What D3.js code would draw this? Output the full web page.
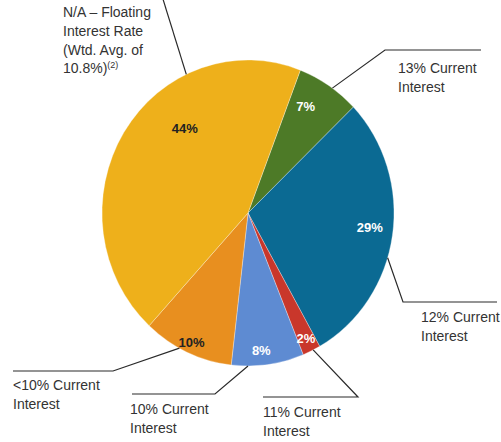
<!DOCTYPE html>
<html><head><meta charset="utf-8">
<script src="https://cdn.jsdelivr.net/npm/d3@7"></script>
<style>body{margin:0;background:#fff}svg{display:block}text{font-family:"Liberation Sans",Arial,sans-serif}</style>
</head><body><svg id="c" width="501" height="442"></svg>
<script>
// Data
const categories = ["13% Current Interest","12% Current Interest","11% Current Interest","10% Current Interest","<10% Current Interest","N/A – Floating Interest Rate (Wtd. Avg. of 10.8%)"];
const values = [7, 29, 2, 8, 10, 44];
const valueLabels = ["7%","29%","2%","8%","10%","44%"];
const colors = ["#4d7a27","#0b6a93","#c9372b","#5e8bd2","#e88f1f","#eeb01b"];
const labelColors = ["#fff","#fff","#fff","#fff","#222","#222"];

// layout
const W = 501, H = 442, cx = 248, cy = 213, R = 146, sy = 1.048;
const startDeg = 21;
const svg = d3.select("#c");
const g = svg.append("g").attr("transform", `translate(${cx},${cy}) scale(1,${sy})`);
const pie = d3.pie().sort(null).value(d => d)
  .startAngle(startDeg * Math.PI / 180).endAngle(startDeg * Math.PI / 180 + 2 * Math.PI);
const arcs = pie(values);
const arc = d3.arc().innerRadius(0).outerRadius(R);
g.selectAll("path").data(arcs).join("path")
  .attr("d", arc).attr("fill", (d, i) => colors[i])
  .attr("stroke", "rgba(255,255,255,0.5)").attr("stroke-width", 0.6);

// helper: point on ellipse by angle (radians, clockwise from top)
const pt = (a, r) => [cx + r * Math.sin(a), cy - r * Math.cos(a) * sy];

// value labels
const labRad = [0.80, 0.84, 0.91, 0.90, 0.93, 0.70];
const labNudge = [-4, -2, 0, 2, 0, 20];
svg.selectAll("text.v").data(arcs).join("text").attr("class", "v")
  .each(function (d, i) {
    const a = (d.startAngle + d.endAngle) / 2 + labNudge[i] * Math.PI / 180;
    const [x, y] = pt(a, R * labRad[i]);
    d3.select(this).attr("x", x).attr("y", y);
  })
  .attr("text-anchor", "middle").attr("dy", "0.35em")
  .attr("font-size", 13).attr("font-weight", "bold")
  .attr("fill", (d, i) => labelColors[i]).text((d, i) => valueLabels[i]);

// leader lines: start angle (deg), elbow, end
const leaders = [
  {deg: 35.3, pts: [[385, 50], [481, 50]], tx: 398, ty: 73, lines: ["13% Current", "Interest"]},
  {deg: 107, pts: [[403, 302], [497, 302]], tx: 421, ty: 322, lines: ["12% Current", "Interest"]},
  {deg: 153.5, pts: [[358, 397], [263, 397]], tx: 263, ty: 417, lines: ["11% Current", "Interest"]},
  {deg: 180, pts: [[215, 394], [132, 394]], tx: 130, ty: 414, lines: ["10% Current", "Interest"]},
  {deg: 208, pts: [[113, 371], [13, 371]], tx: 13, ty: 390, lines: ["<10% Current", "Interest"]},
  {deg: 335, pts: [[162, -4]], tx: 63, ty: 17, lines: ["N/A – Floating", "Interest Rate", "(Wtd. Avg. of", "10.8%)"], sup: "(2)"}
];
const line = d3.line();
leaders.forEach(L => {
  const s = pt(L.deg * Math.PI / 180, R);
  svg.append("path").attr("d", line([s, ...L.pts])).attr("fill", "none")
    .attr("stroke", "#2a2a2a").attr("stroke-width", 1.2);
  const t = svg.append("text").attr("x", L.tx).attr("y", L.ty)
    .attr("font-size", 14).attr("fill", "#333");
  L.lines.forEach((s2, k) => {
    t.append("tspan").attr("x", L.tx).attr("y", L.ty + k * 18.8).text(s2);
  });
  if (L.sup) {
    t.append("tspan").attr("dy", -5).attr("font-size", 9).text(L.sup);
  }
});
</script></body></html>
